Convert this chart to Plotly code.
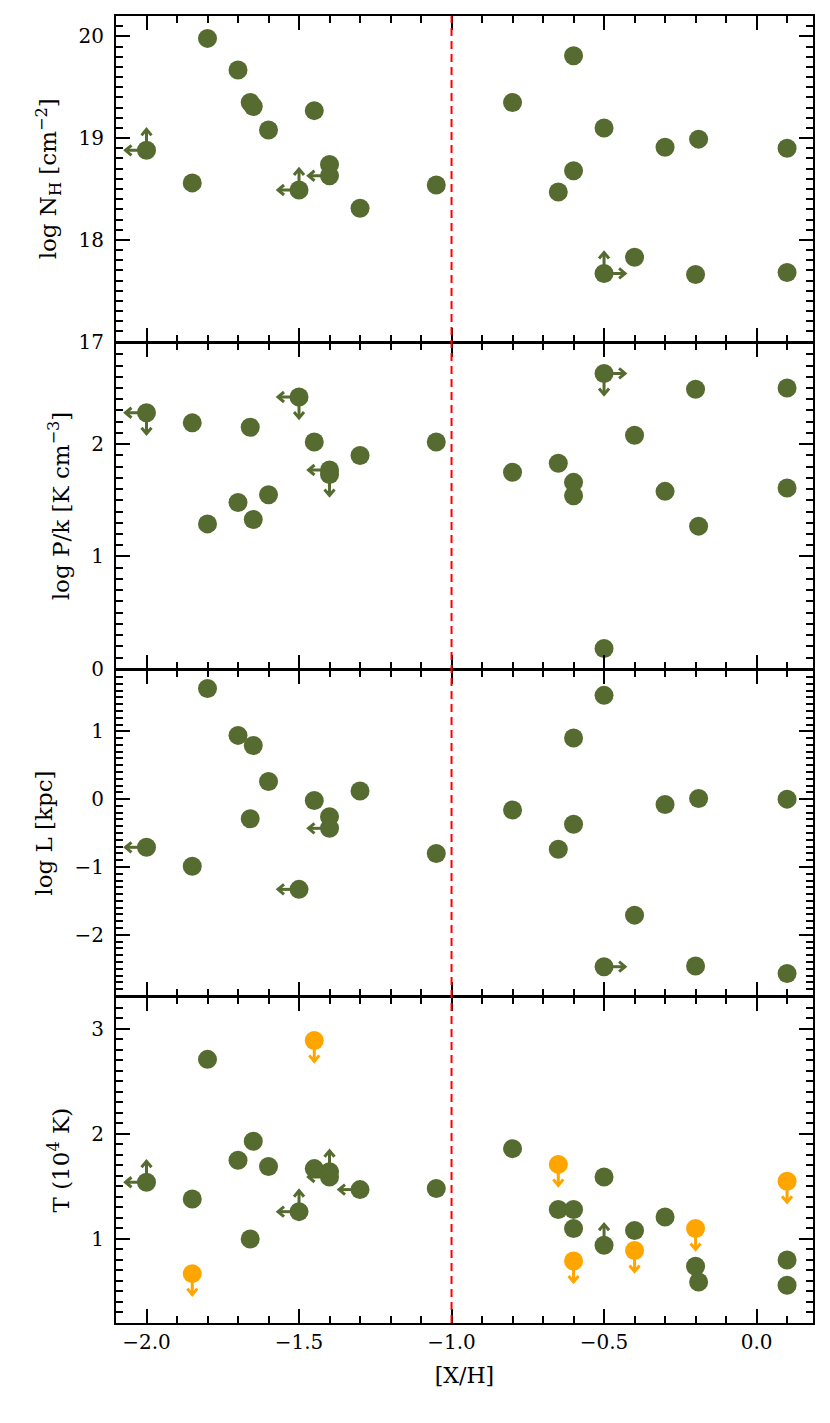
import plotly.graph_objects as go
from plotly.subplots import make_subplots

GREEN = "#556b2f"
ORANGE = "#ffa500"
FONT = "DejaVu Serif"

# [X/H] values shared by the green points of every panel
xh = [-2.0, -1.85, -1.80, -1.70, -1.66, -1.65, -1.60, -1.50, -1.45, -1.40, -1.40, -1.30, -1.05,
      -0.80, -0.65, -0.60, -0.60, -0.50, -0.50, -0.40, -0.30, -0.20, -0.19, 0.10, 0.10]

# limit flags: L/R = arrow left/right, U/D = arrow up/down
nh_y = [18.88, 18.56, 19.98, 19.67, 19.35, 19.31, 19.08, 18.49, 19.27, 18.74, 18.63, 18.31, 18.54,
        19.35, 18.47, 19.81, 18.68, 19.10, 17.67, 17.83, 18.91, 17.66, 18.99, 18.90, 17.68]
nh_lim = ["LU", "", "", "", "", "", "", "LU", "", "", "L", "", "",
          "", "", "", "", "", "RU", "", "", "", "", "", ""]

pk_y = [2.28, 2.19, 1.29, 1.48, 2.15, 1.33, 1.55, 2.42, 2.02, 1.77, 1.73, 1.90, 2.02,
        1.75, 1.83, 1.66, 1.54, 2.63, 0.18, 2.08, 1.58, 2.49, 1.27, 2.50, 1.61]
pk_lim = ["LD", "", "", "", "", "", "", "LD", "", "L", "D", "", "",
          "", "", "", "", "RD", "", "", "", "", "", "", ""]

l_y = [-0.71, -0.99, 1.63, 0.94, -0.29, 0.79, 0.26, -1.33, -0.02, -0.26, -0.43, 0.12, -0.80,
       -0.16, -0.74, 0.90, -0.37, 1.53, -2.47, -1.71, -0.08, -2.46, 0.01, 0.00, -2.57]
l_lim = ["L", "", "", "", "", "", "", "L", "", "", "L", "", "",
         "", "", "", "", "", "R", "", "", "", "", "", ""]

t_y = [1.54, 1.38, 2.71, 1.75, 1.00, 1.93, 1.69, 1.26, 1.67, 1.64, 1.59, 1.47, 1.48,
       1.86, 1.28, 1.28, 1.10, 1.59, 0.94, 1.08, 1.21, 0.74, 0.59, 0.80, 0.56]
t_lim = ["LU", "", "", "", "", "", "", "LU", "", "U", "L", "L", "",
         "", "", "", "", "", "U", "", "", "", "", "", ""]

# orange upper limits in T
tu_x = [-1.85, -1.45, -0.65, -0.60, -0.40, -0.20, 0.10]
tu_y = [0.67, 2.89, 1.71, 0.79, 0.89, 1.10, 1.55]
tu_lim = ["D"] * len(tu_x)

x_range = [-2.1, 0.185]
panels = [
    (nh_y, nh_lim, [17, 20.2], "log N<sub>H</sub> [cm<sup>\u22122</sup>]"),
    (pk_y, pk_lim, [0, 2.9], "log P/k [K cm<sup>\u22123</sup>]"),
    (l_y, l_lim, [-2.9, 1.9], "log L [kpc]"),
    (t_y, t_lim, [0.2, 3.3], "T (10<sup>4</sup> K)"),
]

# page body adds an 8px offset, so the figure is 8px smaller than the window
W, H = 822, 1415
M = dict(l=108, r=17, t=6, b=100)
LW = 1.5
plot_w = W - M["l"] - M["r"]
plot_h = H - M["t"] - M["b"]
panel_h = (plot_h - 3 * LW) / 4
ARROW, HEAD_LEN, HEAD_HALF = 21, 6, 5  # px

DIRS = {"L": (-1, 0), "R": (1, 0), "U": (0, 1), "D": (0, -1)}

# a gap of one line width makes the shared panel borders fall on one line
fig = make_subplots(rows=4, cols=1, shared_xaxes=True, vertical_spacing=LW / plot_h)


def add_arrows(xs, ys, lims, color, row, yr):
    """Limit arrows as one line trace: shaft plus a chevron head."""
    sx = plot_w / (x_range[1] - x_range[0])
    sy = panel_h / (yr[1] - yr[0])
    px, py = [], []
    for x, y, lim in zip(xs, ys, lims):
        for d in lim:
            ux, uy = DIRS[d]
            tx, ty = x + ux * ARROW / sx, y + uy * ARROW / sy
            bx, by = ARROW - HEAD_LEN, ARROW - HEAD_LEN
            a1 = (x + (ux * bx - uy * HEAD_HALF) / sx, y + (uy * by + ux * HEAD_HALF) / sy)
            a2 = (x + (ux * bx + uy * HEAD_HALF) / sx, y + (uy * by - ux * HEAD_HALF) / sy)
            px += [x, tx, None, a1[0], tx, a2[0], None]
            py += [y, ty, None, a1[1], ty, a2[1], None]
    if px:
        fig.add_trace(go.Scatter(x=px, y=py, mode="lines",
                                 line=dict(color=color, width=3), hoverinfo="skip",
                                 showlegend=False), row=row, col=1)


for i, (ys, lims, yr, title) in enumerate(panels, start=1):
    add_arrows(xh, ys, lims, GREEN, i, yr)
    fig.add_trace(go.Scatter(x=xh, y=ys, mode="markers",
                             marker=dict(size=19, color=GREEN, line=dict(width=0)),
                             showlegend=False), row=i, col=1)
    fig.update_yaxes(range=yr, dtick=1, tick0=0, title_text=title, row=i, col=1)

add_arrows(tu_x, tu_y, tu_lim, ORANGE, 4, panels[3][2])
fig.add_trace(go.Scatter(x=tu_x, y=tu_y, mode="markers",
                         marker=dict(size=19, color=ORANGE, line=dict(width=0)),
                         showlegend=False), row=4, col=1)

axis_style = dict(
    showline=True, linecolor="black", linewidth=LW, mirror="ticks",
    ticks="inside", ticklen=14, tickwidth=1.5, tickcolor="black",
    minor=dict(ticks="inside", ticklen=7, tickwidth=1.5, tickcolor="black", dtick=0.1),
    showgrid=False, zeroline=False,
    tickfont=dict(family=FONT, size=20, color="black"),
    title_font=dict(family=FONT, size=23, color="black"),
)
fig.update_xaxes(range=x_range, dtick=0.5, tick0=0, tickformat=".1f", **axis_style)
fig.update_yaxes(ticksuffix=" ", **axis_style)
fig.update_xaxes(title_text="[X/H]", title_font_size=22, row=4, col=1)

# dashed divider at [X/H] = -1
fig.add_shape(type="line", x0=-1.0, x1=-1.0, y0=0, y1=1, xref="x", yref="paper",
              line=dict(color="red", width=2, dash="8px,5px"))

fig.update_layout(
    width=W, height=H, margin=M,
    plot_bgcolor="white", paper_bgcolor="white",
    font=dict(family=FONT, size=20, color="black"),
)

fig.write_html("out.html")
